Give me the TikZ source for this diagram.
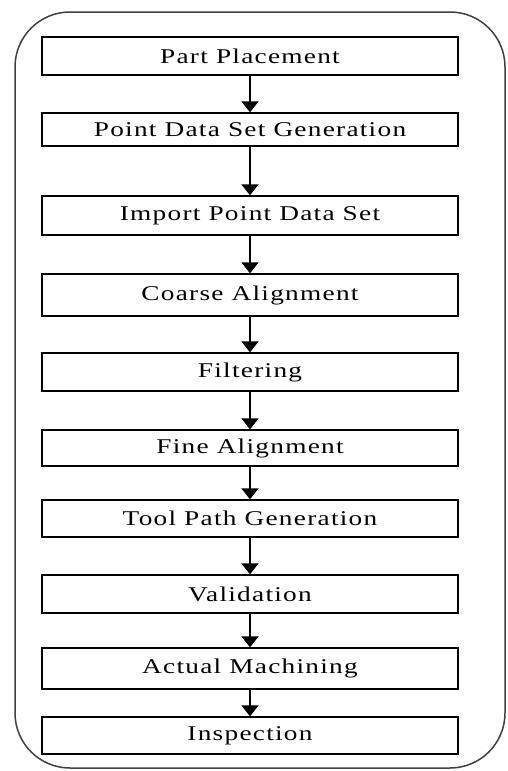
\documentclass[tikz,border=0pt]{standalone}
\usepackage{fontspec}
\setmainfont{Liberation Serif}[FakeStretch=1.3,LetterSpace=6]
\usetikzlibrary{arrows.meta}
\begin{document}
\begin{tikzpicture}[x=1pt,y=-1pt,
  stepbox/.style={draw=black,line width=1.3pt,minimum width=416pt,inner sep=0pt,font=\fontsize{21pt}{24pt}\selectfont},
  flow/.style={line width=1.4pt,-{Triangle[width=17pt,length=11pt]}}]
\useasboundingbox (0,0) rectangle (507,771);
\fill[white] (0,0) rectangle (507,771);
\draw[line width=1.5pt,draw=black!75,rounded corners=55pt] (15,12) rectangle (505,768);
\def\bx#1#2#3#4{\pgfmathsetmacro\hh{#3-#2}\node[stepbox,minimum height=\hh pt] (#1) at (250,{(#2+#3)/2}) {#4};}
\bx{b1}{37}{75}{Part Placement}
\bx{b2}{113}{146}{Point Data Set Generation}
\bx{b3}{196}{235}{Import Point Data Set}
\bx{b4}{274}{316}{Coarse Alignment}
\bx{b5}{353}{391}{Filtering}
\bx{b6}{430}{466}{Fine Alignment}
\bx{b7}{500}{537}{Tool Path Generation}
\bx{b8}{575}{613}{Validation}
\bx{b9}{648}{689}{Actual Machining}
\bx{b10}{717}{754}{Inspection}
\foreach \a/\b in {b1/b2,b2/b3,b3/b4,b4/b5,b5/b6,b6/b7,b7/b8,b8/b9,b9/b10}
  \draw[flow] (\a.south) -- (\b.north);
\end{tikzpicture}
\end{document}
